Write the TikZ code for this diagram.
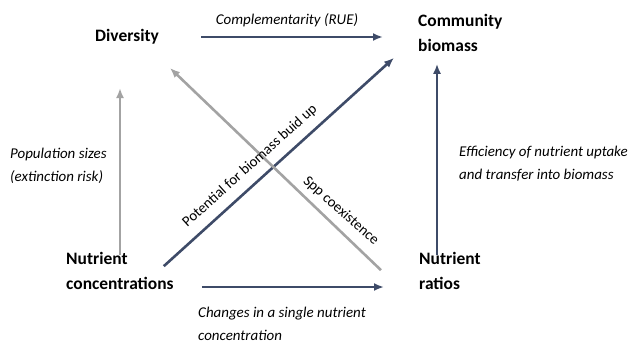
\documentclass[tikz,border=0pt]{standalone}
\usepackage{fontspec}
\setmainfont{Carlito}
\usetikzlibrary{arrows.meta}
\definecolor{darkarr}{HTML}{3E4B68}
\definecolor{greyarr}{HTML}{A3A3A3}
\tikzset{
  box/.style={inner sep=0pt, anchor=west, align=left, font=\fontsize{17.5}{25}\selectfont\bfseries},
  lab/.style={inner sep=0pt, align=left, font=\fontsize{15}{23}\selectfont\itshape},
  slab/.style={inner sep=0pt, font=\fontsize{14.8}{18}\selectfont},
  darr/.style={draw=darkarr, line width=2.6bp, -{Latex[length=10bp,width=8bp]}},
  garr/.style={draw=greyarr, line width=2.6bp, -{Latex[length=10bp,width=8bp]}}
}
\begin{document}
\begin{tikzpicture}[x=1bp,y=1bp]
\useasboundingbox (0,0) rectangle (634,355);
% main nodes
\node[box] (div) at (95,318) {Diversity};
\node[box] (cb) at (418,322) {Community\\biomass};
\node[box] (nc) at (66,84) {Nutrient\\concentrations};
\node[box] (nr) at (419,84) {Nutrient\\ratios};
% arrows
\draw[darr] ([xshift=42bp]div.east) -- ([xshift=-35bp]div.east -| cb.west);
\draw[garr] ([xshift=54bp,yshift=-3bp]nc.north west) -- ([xshift=54bp]nc.north west |- {0,267});
\draw[darr] ([xshift=18bp,yshift=-3bp]nr.north west) -- ([xshift=18bp,yshift=-12bp]nr.north west |- cb.south);
\draw[darr] ([xshift=-10bp,yshift=-14bp]nc.north east) -- ([xshift=-24bp,yshift=-6bp]cb.south west);
\draw[garr] ([xshift=-38bp,yshift=-18bp]nr.north west) -- ([xshift=75bp,yshift=-31bp]div.west);
\draw[darr] ([xshift=28bp,yshift=-16bp]nc.east) -- ([xshift=-35bp,yshift=-16bp]nr.west);
% labels
\node[lab] (l1) at (287,335) {Complementarity (RUE)};
\node[lab, anchor=west] (l2) at (10,189) {Population sizes\\(extinction risk)};
\node[lab, anchor=west] (l3) at (459,191) {Efficiency of nutrient uptake\\and transfer into biomass};
\node[lab, anchor=west] (l4) at (198,31.5) {Changes in a single nutrient\\concentration};
\node[slab, rotate=42] (l5) at (250,189) {Potential for biomass buid up};
\node[slab, rotate=-41.5] (l6) at (341,144) {Spp coexistence};
\end{tikzpicture}
\end{document}
